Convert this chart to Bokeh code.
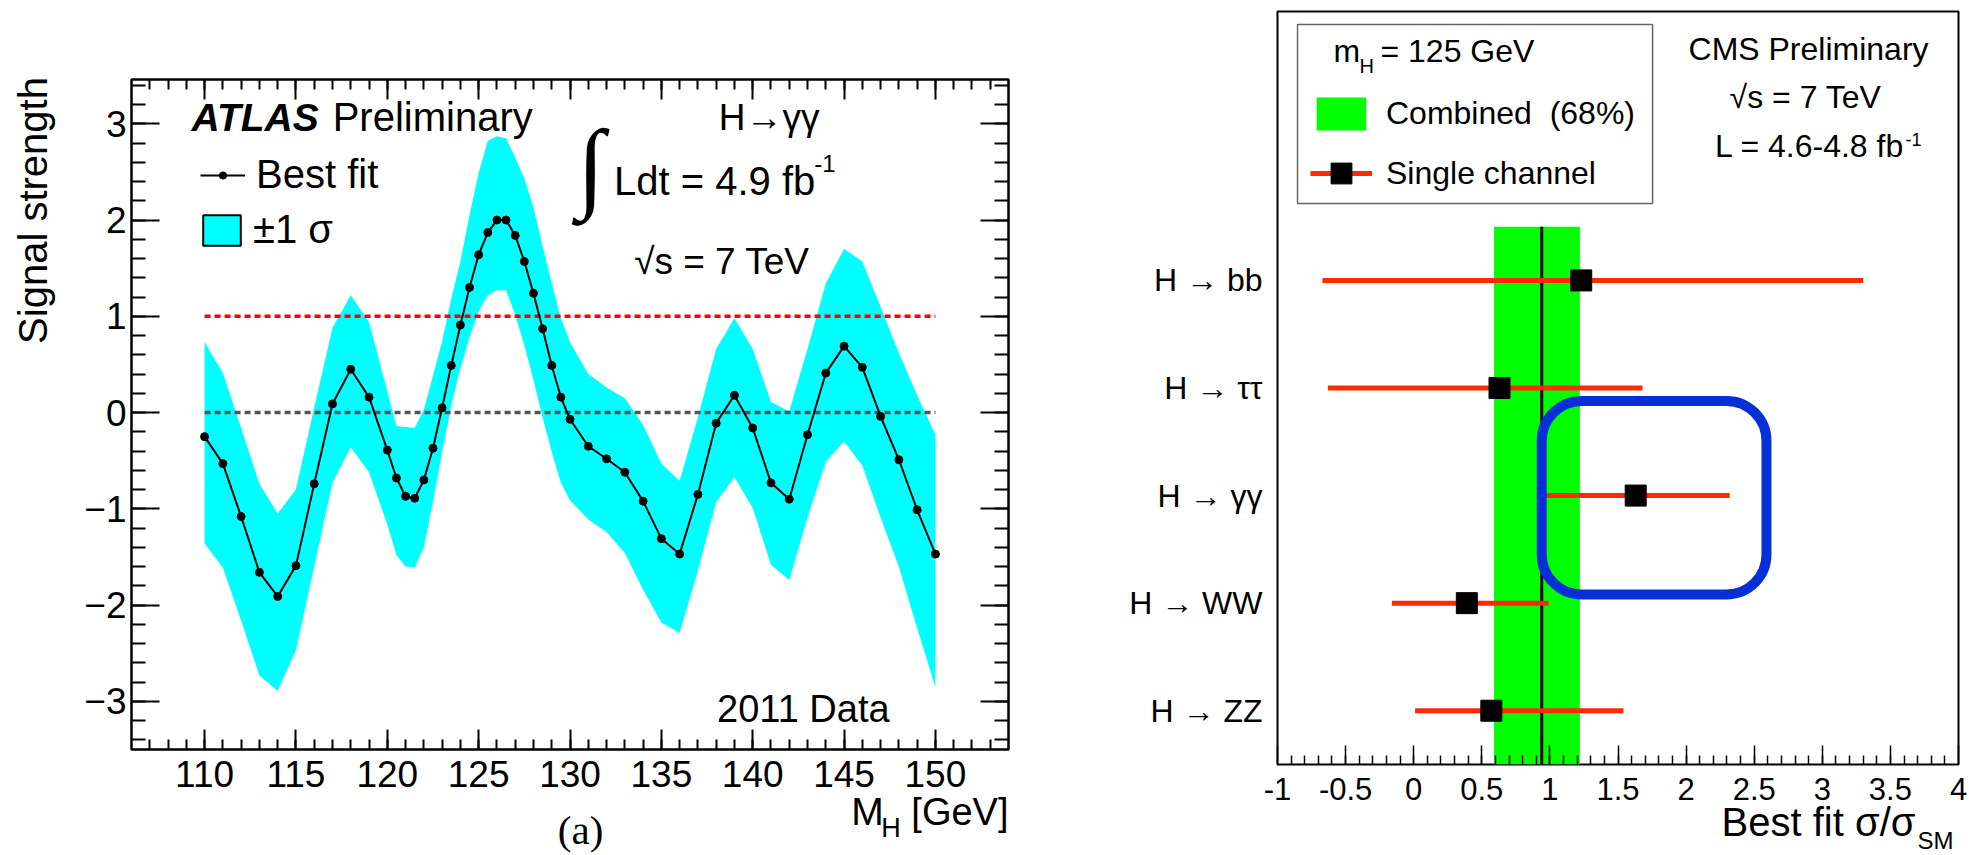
import numpy as np
from bokeh.plotting import figure
from bokeh.models import (Range1d, FixedTicker, LinearAxis, Label, Legend, LegendItem,
                          BoxAnnotation)
from bokeh.core.properties import value
from bokeh.embed import file_html
from bokeh.resources import INLINE

# ---------------- data: left panel (ATLAS, H -> gamma gamma) ----------------
mass = [110, 111, 112, 113, 114, 115, 116, 117, 118, 119, 120, 120.5, 121, 121.5, 122, 122.5,
        123, 123.5, 124, 124.5, 125, 125.5, 126, 126.5, 127, 127.5, 128, 128.5, 129, 129.5, 130,
        131, 132, 133, 134, 135, 136, 137, 138, 139, 140, 141, 142, 143, 144, 145, 146, 147,
        148, 149, 150]
best_fit = [-0.25, -0.53, -1.08, -1.66, -1.91, -1.59, -0.74, 0.09, 0.45, 0.16, -0.39, -0.68,
            -0.87, -0.89, -0.70, -0.37,
            0.05, 0.49, 0.91, 1.30, 1.64, 1.87, 2.00, 2.00, 1.84, 1.57, 1.24, 0.87, 0.49, 0.16,
            -0.07,
            -0.35, -0.48, -0.62, -0.92, -1.31, -1.47, -0.85, -0.11, 0.18, -0.16, -0.73, -0.90,
            -0.23, 0.41, 0.69, 0.47, -0.04, -0.49, -1.01, -1.47]
band_up = [0.73, 0.41, -0.16, -0.74, -1.05, -0.80, 0.05, 0.88, 1.22, 0.94, 0.22, -0.14,
           -0.15, -0.16, 0.03, 0.38,
           0.74, 1.18, 1.57, 2.05, 2.49, 2.82, 2.87, 2.85, 2.65, 2.43, 2.13, 1.73, 1.34, 0.98,
           0.73,
           0.40, 0.26, 0.15, -0.13, -0.53, -0.71, -0.05, 0.66, 0.98, 0.66, 0.11, 0.01, 0.66,
           1.34, 1.70, 1.57, 1.10, 0.62, 0.18, -0.23]
band_lo = [-1.36, -1.61, -2.16, -2.73, -2.89, -2.47, -1.60, -0.73, -0.36, -0.62, -1.16, -1.48,
           -1.60, -1.61, -1.40, -0.93,
           -0.41, 0.07, 0.46, 0.78, 1.05, 1.22, 1.27, 1.27, 1.02, 0.70, 0.34, -0.05, -0.41,
           -0.73, -0.91,
           -1.11, -1.24, -1.46, -1.84, -2.18, -2.29, -1.64, -0.93, -0.67, -0.99, -1.58, -1.74,
           -1.09, -0.51, -0.30, -0.55, -1.09, -1.60, -2.24, -2.85]
sm_value = 1.0
bkg_value = 0.0
mass_ticks = [110, 115, 120, 125, 130, 135, 140, 145, 150]
mu_ticks = [-3, -2, -1, 0, 1, 2, 3]

# ---------------- data: right panel (CMS, single channels) ----------------
channels = ["H \u2192 ZZ", "H \u2192 WW", "H \u2192 \u03b3\u03b3", "H \u2192 \u03c4\u03c4", "H \u2192 bb"]
ch_pos = [0.5, 1.5, 2.5, 3.5, 4.5]
mu_fit = [0.57, 0.39, 1.63, 0.63, 1.23]
mu_lo = [0.01, -0.16, 0.95, -0.63, -0.67]
mu_hi = [1.54, 0.99, 2.32, 1.68, 3.30]
comb_mu = 0.94
comb_lo = 0.59
comb_hi = 1.22
ratio_ticks = [-1, -0.5, 0, 0.5, 1, 1.5, 2, 2.5, 3, 3.5, 4]
ratio_labels = ["-1", "-0.5", "0", "0.5", "1", "1.5", "2", "2.5", "3", "3.5", "4"]

SANS = "Liberation Sans"
SERIF = "Liberation Serif"


def label(p, x, y, text, size, align="left", font=SANS, style="normal", angle=0.0,
          place="center"):
    lab = Label(x=x, y=y, text=text, text_font=font, text_font_size=f"{size}px",
                text_align=align, text_baseline="middle", text_font_style=style,
                angle=angle, text_color="black")
    p.add_layout(lab, place)


def otext(p, x, y, text, size, align="left", font=SANS):
    # text glyph drawn on the overlay level so that it may sit outside the frame
    p.text(x=[x], y=[y], text=[text], text_font=value(font), text_font_size=value(f"{size}px"),
           text_align=align, text_baseline="middle", text_color="black", level="overlay")


def style_axis(ax, tick_in, minor_in, font_size, standoff, show_labels=True, width=2):
    ax.axis_line_color = None
    ax.major_tick_in = tick_in
    ax.major_tick_out = 0
    ax.minor_tick_in = minor_in
    ax.minor_tick_out = 0
    ax.major_tick_line_width = width
    ax.minor_tick_line_width = width
    ax.major_tick_line_color = "black"
    ax.minor_tick_line_color = "black"
    ax.major_label_text_font = SANS
    ax.major_label_text_color = "black"
    ax.major_label_standoff = standoff
    if show_labels:
        ax.major_label_text_font_size = f"{font_size}px"
    else:
        ax.major_label_text_font_size = "0px"
        ax.major_label_text_alpha = 0


def base_fig(width, x_range, y_range, left, right, top, bottom):
    p = figure(width=width, height=855, x_range=x_range, y_range=y_range,
               output_backend="svg", toolbar_location=None,
               min_border_left=left, min_border_right=right, min_border_top=top,
               min_border_bottom=bottom)
    if p.title is not None:
        p.title.visible = False
    p.xgrid.visible = False
    p.ygrid.visible = False
    p.outline_line_color = "black"
    p.outline_line_alpha = 1
    p.background_fill_color = "white"
    p.border_fill_color = "white"
    return p


# ======================= left panel =======================
p1 = base_fig(1100, Range1d(106, 154), Range1d(-3.5, 3.46), 131, 92, 79, 106)
p1.outline_line_width = 2.5

x_minor = [float(v) for v in np.arange(107, 154, 1)]
y_minor = [round(float(v), 1) for v in np.arange(-3.4, 3.45, 0.2)]
xt = FixedTicker(ticks=mass_ticks, minor_ticks=x_minor)
yt = FixedTicker(ticks=mu_ticks, minor_ticks=y_minor)

p1.xaxis[0].ticker = xt
style_axis(p1.xaxis[0], 20, 10, 37, 11)
p1.yaxis[0].ticker = yt
style_axis(p1.yaxis[0], 28, 14, 37, 5)
top_ax = LinearAxis(ticker=xt)
style_axis(top_ax, 20, 10, 0, 0, show_labels=False)
p1.add_layout(top_ax, "above")
right_ax = LinearAxis(ticker=yt)
style_axis(right_ax, 28, 14, 0, 0, show_labels=False)
p1.add_layout(right_ax, "right")

band_r = p1.varea(x=mass, y1=band_lo, y2=band_up, fill_color="#00ffff")
p1.line(x=[mass[0], mass[-1]], y=[sm_value, sm_value], line_color="#ff0000", line_width=3.5,
        line_dash="6 4")
p1.line(x=[mass[0], mass[-1]], y=[bkg_value, bkg_value], line_color="#555555", line_width=3.5,
        line_dash="6 4")
line_r = p1.line(x=mass, y=best_fit, line_color="black", line_width=2)
# legend proxy for the +-1 sigma box (zero size, hidden beneath the first best-fit point)
box_proxy = p1.quad(left=[mass[0]], right=[mass[0]], bottom=[best_fit[0]], top=[best_fit[0]],
                    fill_color="#00ffff", line_color="black", line_width=2)
dots_r = p1.scatter(x=mass, y=best_fit, size=8, color="black")

leg_common = dict(padding=0, margin=0, spacing=0, label_text_font=SANS,
                  label_text_color="black", border_line_alpha=0, background_fill_alpha=0)
leg1 = Legend(items=[LegendItem(label="Best fit", renderers=[line_r, dots_r])],
              location=(69, 552), glyph_width=45, glyph_height=18, label_standoff=11,
              label_text_font_size="40px", **leg_common)
leg2 = Legend(items=[LegendItem(label="\u00b11 \u03c3", renderers=[box_proxy])],
              location=(67, 497), glyph_width=47, glyph_height=38, label_standoff=8,
              label_text_font_size="40px", **leg_common)
p1.add_layout(leg1)
p1.add_layout(leg2)

label(p1, 109.29, 3.069, "ATLAS", 39, style="bold italic")
label(p1, 117.01, 3.074, "Preliminary", 40)
label(p1, 140.9, 3.063, "H\u2192\u03b3\u03b3", 37, align="center")
label(p1, 131.15, 2.565, "\u222b", 100, align="center", font=SERIF)
label(p1, 132.41, 2.409, "Ldt = 4.9 fb", 40)
label(p1, 143.37, 2.590, "-1", 24)
label(p1, 133.51, 1.568, "\u221as = 7 TeV", 37)
label(p1, 138.05, -3.081, "2011 Data", 38)
otext(p1, 145.40, -4.146, "M", 39)
otext(p1, 147.04, -4.315, "H", 27)
otext(p1, 154.0, -4.151, "[GeV]", 38, align="right")
otext(p1, 130.58, -4.34, "(a)", 41, align="center", font=SERIF)
label(p1, 100.6, 3.485, "Signal strength", 40, align="right", angle=np.pi / 2,
      place="left")

# ======================= right panel =======================
p2 = base_fig(869, Range1d(-1, 4), Range1d(0, 7), 177, 11, 11, 91)
p2.outline_line_width = 2

r_minor = [round(float(v), 1) for v in np.arange(-0.9, 4.0, 0.1)]
p2.xaxis[0].ticker = FixedTicker(ticks=ratio_ticks, minor_ticks=r_minor)
p2.xaxis[0].major_label_overrides = {t: s for t, s in zip(ratio_ticks, ratio_labels)}
style_axis(p2.xaxis[0], 19, 9, 31, 13, width=1.5)
p2.yaxis[0].ticker = FixedTicker(ticks=ch_pos, minor_ticks=[])
p2.yaxis[0].major_label_overrides = {t: s for t, s in zip(ch_pos, channels)}
style_axis(p2.yaxis[0], 0, 0, 32, 15)

n_ch = len(channels)
comb_r = p2.quad(left=[comb_lo], right=[comb_hi], bottom=[0], top=[n_ch],
                 fill_color="#00ff00", line_color=None)
p2.segment(x0=[comb_mu], y0=[0], x1=[comb_mu], y1=[n_ch], line_color="black", line_width=3)
err_r = p2.segment(x0=mu_lo, y0=ch_pos, x1=mu_hi, y1=ch_pos, line_color="#ff2a00",
                   line_width=5)
sq_r = p2.scatter(x=mu_fit, y=ch_pos, marker="square", size=21, color="black")

p2.add_layout(BoxAnnotation(left=0.94, right=2.59, bottom=1.58, top=3.38, fill_alpha=0,
                            line_color="#0530d8", line_alpha=1, line_width=10,
                            border_radius=40))

# legend frame
p2.add_layout(BoxAnnotation(left=-0.853, right=1.754, bottom=5.215, top=6.879,
                            fill_color="white", fill_alpha=1, line_color="#666666",
                            line_alpha=1, line_width=1.5))
legA = Legend(items=[LegendItem(label="Combined  (68%)", renderers=[comb_r])],
              location=(33, 630), glyph_width=62, glyph_height=41, label_standoff=14,
              label_text_font_size="32px", **leg_common)
legB = Legend(items=[LegendItem(label="Single channel", renderers=[err_r, sq_r])],
              location=(33, 565), glyph_width=62, glyph_height=52, label_standoff=14,
              label_text_font_size="32px", **leg_common)
p2.add_layout(legA)
p2.add_layout(legB)

label(p2, -0.589, 6.630, "m", 32)
label(p2, -0.398, 6.498, "H", 20)
label(p2, -0.244, 6.630, "= 125 GeV", 32)
label(p2, 2.899, 6.649, "CMS Preliminary", 32, align="center")
label(p2, 2.877, 6.202, "\u221as = 7 TeV", 32, align="center")
label(p2, 3.603, 5.747, "L = 4.6-4.8 fb", 32, align="right")
label(p2, 3.611, 5.813, "-1", 18)
otext(p2, 3.684, -0.530, "Best fit \u03c3/\u03c3", 40, align="right")
otext(p2, 3.699, -0.7065, "SM", 24)

PAGE = """
{% block postamble %}
<style>
html, body { margin: 0 !important; padding: 0 !important; }
body { display: flex !important; flex-direction: row !important; align-items: flex-start; }
body > * { flex-shrink: 0; }
</style>
{% endblock %}
"""
open("out.html", "w").write(file_html([p1, p2], INLINE, template=PAGE))
